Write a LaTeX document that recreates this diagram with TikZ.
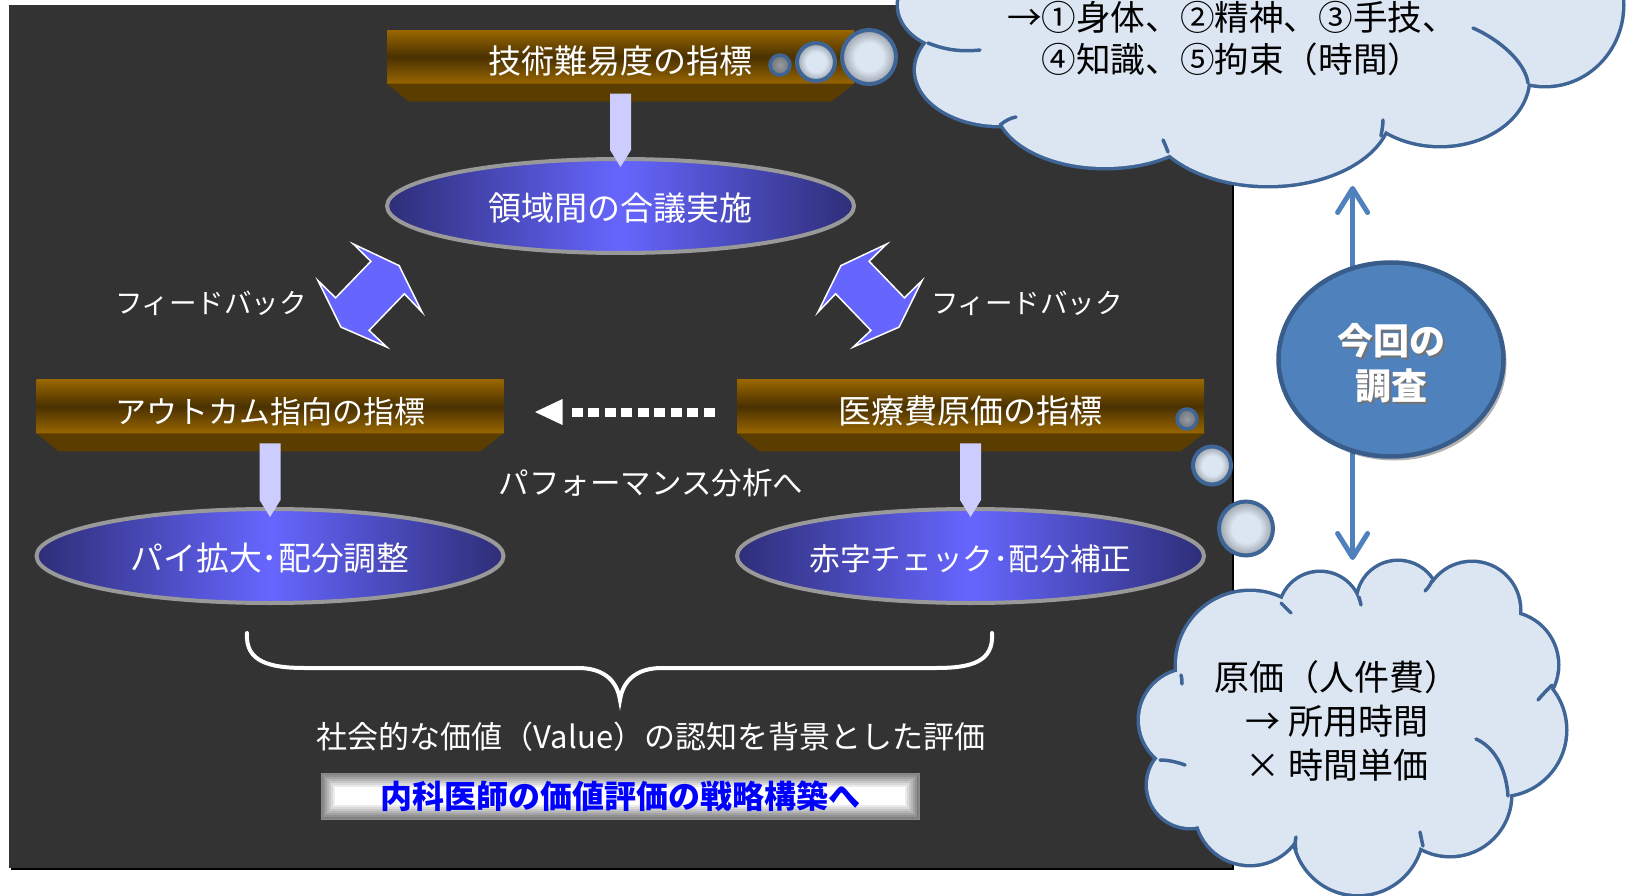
\documentclass[tikz,border=0pt]{standalone}
\usepackage{fontspec}
\newfontfamily\jp{Noto Sans CJK JP}
\usetikzlibrary{shapes.geometric,arrows.meta,shadows,calc}
\pgfdeclarelayer{bg}
\pgfsetlayers{bg,main}
\definecolor{panel}{HTML}{333333}
\definecolor{bannerhi}{HTML}{996600}
\definecolor{bannerlo}{HTML}{4A3100}
\definecolor{bevel}{HTML}{5C3D00}
\definecolor{ellhi}{HTML}{6666FF}
\definecolor{ello}{HTML}{2E2E78}
\definecolor{ellborder}{HTML}{999999}
\definecolor{arrowfill}{HTML}{CCCCFF}
\definecolor{fbfill}{HTML}{6666FF}
\definecolor{cloudfill}{HTML}{DCE6F2}
\definecolor{cloudline}{HTML}{3E6596}
\definecolor{surveyfill}{HTML}{4F81BD}
\definecolor{surveyline}{HTML}{385D8A}
\definecolor{bubblerim}{HTML}{9AA1AA}
\definecolor{bubbledark}{HTML}{6E737A}
\definecolor{finalblue}{HTML}{0000FF}
\pgfdeclareradialshading{bubbleshade}{\pgfpoint{0bp}{0bp}}{color(0bp)=(cloudfill); color(13bp)=(cloudfill); color(25bp)=(bubblerim); color(50bp)=(bubblerim)}
\pgfdeclareradialshading{bubbleshadedark}{\pgfpoint{0bp}{0bp}}{color(0bp)=(bubbledark!70!white); color(25bp)=(bubbledark); color(50bp)=(bubbledark)}
\newcommand\jpf[1]{\jp\fontsize{#1}{#1}\selectfont}
\newcommand\jpfl[2]{\jp\fontsize{#1}{#2}\selectfont}
\newcommand\dnarr[2]{\fill[arrowfill] ([xshift=-10.5pt,yshift=-10pt]#1.south) -- ([xshift=10.5pt,yshift=-10pt]#1.south) -- ([xshift=10.5pt,yshift=9pt]#2.north) -- ([yshift=-8pt]#2.north) -- ([xshift=-10.5pt,yshift=9pt]#2.north) -- cycle;}
\def\toplobes{(962,5) ellipse[x radius=63pt,y radius=45pt] (1000,70) ellipse[x radius=84pt,y radius=55pt] (1105,105) ellipse[x radius=108pt,y radius=62pt] (1268,110) ellipse[x radius=122pt,y radius=75pt] (1440,78) ellipse[x radius=88pt,y radius=67pt] (1545,5) ellipse[x radius=77pt,y radius=80pt]}
\def\botlobes{(1320,613) circle[radius=40pt] (1398,602) circle[radius=40pt] (1472,610) circle[radius=47pt] (1505,665) circle[radius=52pt] (1500,730) circle[radius=65pt] (1450,795) circle[radius=60pt] (1358,830) circle[radius=64pt] (1250,810) circle[radius=54pt] (1190,785) circle[radius=42pt] (1190,720) circle[radius=50pt] (1250,665) circle[radius=73pt]}
\begin{document}
\begin{tikzpicture}[x=1pt,y=-1pt,
  banner/.style={rectangle, minimum width=467pt, minimum height=53.5pt, inner sep=0pt, outer sep=0pt, top color=bannerhi, bottom color=bannerhi, middle color=bannerlo, text=white, font=\jpf{33}, text height=34pt, text depth=0pt},
  oval/.style={ellipse, minimum width=467pt, minimum height=94pt, inner sep=0pt, outer sep=0pt, left color=ello, right color=ello, middle color=ellhi, draw=ellborder, line width=4pt, text=white, font=\jpf{33}, text height=29.5pt, text depth=0pt},
  fbarrow/.style={fill=fbfill, draw=white, line width=1.5pt, line join=miter},
  txt/.style={text=white, inner sep=0pt},
  bubble/.style={shading=bubbleshade, shade, draw=cloudline, line width=4pt},
  bubblesmall/.style={shading=bubbleshadedark, shade, draw=cloudline, line width=3.5pt},
  cloudarc/.style={draw=cloudline, line width=3.5pt, line cap=round},
  sarrow/.style={draw=surveyfill, line width=5pt, -{Straight Barb[length=24pt,width=30pt,line cap=round,line join=round]}},
  surveyell/.style={ellipse, minimum width=225pt, minimum height=194pt, inner sep=0pt, fill=surveyfill, draw=surveyline, line width=4.5pt, drop shadow={shadow xshift=3pt, shadow yshift=-4pt, opacity=0.3, fill=black}},
  finalbox/.style={rectangle, minimum width=598pt, minimum height=46pt, inner sep=0pt, fill=white, draw=black!45, line width=0.8pt, text=finalblue, font=\jpf{32}\bfseries,
    path picture={\foreach \i in {0,...,6}{\pgfmathsetmacro\d{1+2*\i}\pgfmathtruncatemacro\c{50-7*\i}\draw[black!\c, line width=2.2pt] ([shift={(\d,\d)}]path picture bounding box.north west) rectangle ([shift={(-\d,-\d)}]path picture bounding box.south east);}}}
]
\useasboundingbox (0,0) rectangle (1634,896);
\begin{pgfonlayer}{bg}
\fill[white] (0,0) rectangle (1634,896);
\end{pgfonlayer}
% panel
\fill[black] (11,7) rectangle (1234,870);
\fill[panel] (9,5) rectangle (1232,868);

% banners
\node[banner] (t1) at (620.5,57) {技術難易度の指標};
\node[banner, font=\jpf{31}] (b2) at (270,406.5) {アウトカム指向の指標};
\node[banner] (b3) at (970.5,406.5) {医療費原価の指標};
\foreach \b in {t1,b2,b3}{
  \fill[bevel] (\b.south west) -- (\b.south east) -- ([xshift=-23pt,yshift=-18pt]\b.south east) -- ([xshift=22pt,yshift=-18pt]\b.south west) -- cycle;
}

% ovals
\node[oval] (o1) at (620.5,206) {領域間の合議実施};
\node[oval, font=\jpf{32.8}] (o2) at (270,556) {パイ拡大･配分調整};
\node[oval, font=\jpf{30.7}] (o3) at (970.5,556) {赤字チェック･配分補正};

% down arrows
\dnarr{t1}{o1}
\dnarr{b2}{o2}
\dnarr{b3}{o3}

% dotted arrow
\draw[white, line width=9pt, dash pattern=on 11pt off 5.44pt, shorten <=22.5pt, shorten >=68pt] ([yshift=-5.5pt]b3.west) -- ([yshift=-5.5pt]b2.east);
\fill[white] ([xshift=31.5pt,yshift=-5.5pt]b2.east) -- ([xshift=59pt,yshift=7.5pt]b2.east) -- ([xshift=59pt,yshift=-18.5pt]b2.east) -- cycle;

% feedback arrows
\path[fbarrow] (353.3,244) -- (399.1,265.6) -- (422,312.1) -- (404.4,293.8) -- (369.1,330.4) -- (386.7,347) -- (340.9,327.1) -- (318,280.6) -- (335.6,297.8) -- (370.9,261.3) -- cycle;
\path[fbarrow] (886.7,244) -- (840.9,265.6) -- (818,312.1) -- (835.6,293.8) -- (870.9,330.4) -- (853.3,347) -- (899.1,327.1) -- (922,280.6) -- (904.4,297.8) -- (869.1,261.3) -- cycle;

% texts
\node[txt, font=\jpf{27.5}] (fbL) at (211,303) {フィードバック};
\node[txt, font=\jpf{27.5}] (fbR) at (1027,303) {フィードバック};
\node[txt, font=\jpf{30.5}] (perf) at (651,482.5) {パフォーマンス分析へ};

% brace
\draw[white, line width=4pt, line cap=round] (247,633) .. controls (245,662) and (270,668) .. (305,668) -- (578,668) .. controls (603,668) and (617,680) .. (620,700) .. controls (623,680) and (637,668) .. (662,668) -- (936,668) .. controls (971,668) and (994,662) .. (992,633);

\node[txt, font=\jpf{31}] (social) at (651,737) {社会的な価値（Value）の認知を背景とした評価};
\node[finalbox] (final) at (620,796) {内科医師の価値評価の戦略構築へ};

% thought bubbles
\path[bubblesmall] (780,65) circle[radius=10pt];
\path[bubble] (816,62) circle[radius=19pt];
\path[bubble] (869,57) circle[radius=27pt];
\path[bubblesmall] (1187,419) circle[radius=10pt];
\path[bubble] (1212,465.5) circle[radius=19pt];
\path[bubble] (1246,528.5) circle[radius=27pt];

% top cloud
\draw[cloudline, line width=7pt] \toplobes;
\fill[cloudfill] \toplobes (1260,20) ellipse[x radius=300pt,y radius=120pt];
\draw[cloudarc] (928,43) .. controls (945,50) and (962,52) .. (980,50);
\draw[cloudarc] (1000,125) .. controls (1005,121) and (1010,118) .. (1016,117);
\draw[cloudarc] (1168,152) .. controls (1166,147) and (1165,144) .. (1163,140);
\draw[cloudarc] (1381,136) .. controls (1382,130) and (1383,125) .. (1383,120);
\draw[cloudarc] (1473,28) .. controls (1500,40) and (1525,62) .. (1528,83);
\node[align=center, font=\jpfl{34.6}{42}, inner sep=0pt] (cloudA) at (1232,39) {→①身体、②精神、③手技、\\④知識、⑤拘束（時間）};

% bottom cloud
\draw[cloudline, line width=7pt] \botlobes;
\fill[cloudfill] \botlobes (1352,728) ellipse[x radius=170pt,y radius=120pt];
\draw[cloudarc] (1281,603) .. controls (1285,607) and (1288,610) .. (1291,613);
\draw[cloudarc] (1359,597) .. controls (1360,600) and (1360,602) .. (1361,605);
\draw[cloudarc] (1432,581) .. controls (1430,585) and (1428,588) .. (1425,591);
\draw[cloudarc] (1538,700) .. controls (1543,694) and (1548,689) .. (1552,685);
\draw[cloudarc] (1476,739) .. controls (1492,746) and (1506,765) .. (1508,796);
\draw[cloudarc] (1420,832) .. controls (1421,837) and (1422,842) .. (1423,846);
\draw[cloudarc] (1296,850) .. controls (1295,845) and (1295,841) .. (1296,837);
\draw[cloudarc] (1185,765) .. controls (1177,762) and (1168,760) .. (1160,760);
\draw[cloudarc] (1181,675) .. controls (1182,678) and (1182,681) .. (1182,684);
\node[align=center, font=\jpfl{35}{44.3}, inner sep=0pt] (cloudB) at (1337,721) {原価（人件費）\\→ 所用時間\\× 時間単価};

% survey
\node[surveyell] (survey) at (1391,359.5) {};
\node[align=center, font=\jpfl{36}{45}\bfseries, text=black!55, inner sep=0pt] (surveyshadow) at (1393.5,365.5) {今回の\\調査};
\node[align=center, font=\jpfl{36}{45}\bfseries, text=white, inner sep=0pt] (surveytext) at (1391,363) {今回の\\調査};
\coordinate (upTip) at (1352.6,186);
\coordinate (downTip) at (1352.6,560);
\begin{pgfonlayer}{bg}
\draw[sarrow] (upTip |- survey.center) -- (upTip);
\draw[sarrow] (downTip |- survey.center) -- (downTip);
\end{pgfonlayer}
\end{tikzpicture}
\end{document}
